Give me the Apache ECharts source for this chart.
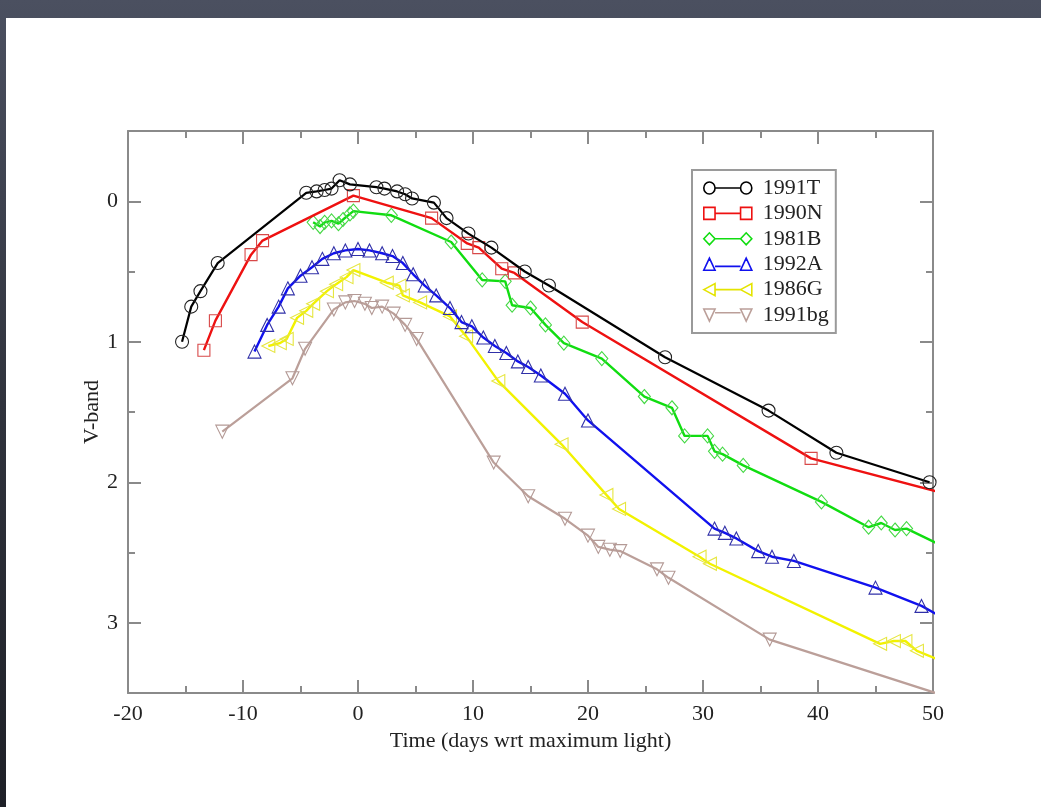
<!DOCTYPE html>
<html>
<head>
<meta charset="utf-8">
<script src="https://cdn.jsdelivr.net/npm/echarts@6/dist/echarts.min.js"></script>
<style>
  html, body { margin: 0; padding: 0; width: 1041px; height: 807px; overflow: hidden;
    background: linear-gradient(180deg, #4b5060 0%, #30333d 50%, #1e2027 100%); }
  #chart { position: absolute; left: 6px; top: 18px; width: 1035px; height: 789px; background: #ffffff; }
</style>
</head>
<body>
<div id="chart"></div>
<script>
// ---- data (time in days wrt maximum light, V-band magnitude offset) ----
const seriesNames = ['1991T', '1990N', '1981B', '1992A', '1986G', '1991bg'];

const sn1991T = [[-15.3,1.0],[-14.5,0.75],[-13.7,0.64],[-12.2,0.44],[-4.5,-0.06],[-3.6,-0.07],[-2.9,-0.08],[-2.3,-0.09],[-1.6,-0.15],[-0.7,-0.12],[1.6,-0.1],[2.3,-0.09],[3.4,-0.07],[4.1,-0.05],[4.7,-0.02],[6.6,0.01],[7.7,0.12],[9.6,0.23],[11.6,0.33],[14.5,0.5],[16.6,0.6],[26.7,1.11],[35.7,1.49],[41.6,1.79],[49.7,2.0]];

const sn1990N = [[-13.4,1.06],[-12.4,0.85],[-9.3,0.38],[-8.3,0.28],[-0.4,-0.04],[6.4,0.12],[9.5,0.3],[10.5,0.33],[12.5,0.48],[13.6,0.51],[19.5,0.86],[39.4,1.83],[51.5,2.09]];

const sn1981B = [[-3.9,0.15],[-3.3,0.18],[-2.9,0.15],[-2.3,0.14],[-1.7,0.16],[-1.3,0.13],[-0.7,0.09],[-0.4,0.07],[2.9,0.1],[8.1,0.29],[10.8,0.56],[12.8,0.57],[13.4,0.74],[15.0,0.76],[16.3,0.88],[17.9,1.01],[21.2,1.12],[24.9,1.39],[27.3,1.47],[28.4,1.67],[30.4,1.67],[31.0,1.78],[31.7,1.8],[33.5,1.88],[40.3,2.14],[44.4,2.32],[45.5,2.29],[46.7,2.34],[47.7,2.33],[51.0,2.46]];

const sn1992A = [[-9.0,1.07],[-7.9,0.88],[-6.9,0.75],[-6.1,0.62],[-5.0,0.53],[-4.0,0.47],[-3.1,0.41],[-2.1,0.37],[-1.1,0.35],[0.0,0.34],[1.0,0.35],[2.1,0.37],[3.0,0.39],[3.9,0.44],[4.8,0.52],[5.8,0.6],[6.8,0.67],[8.0,0.76],[9.0,0.86],[9.9,0.89],[10.9,0.97],[11.9,1.03],[12.9,1.08],[13.9,1.14],[14.8,1.18],[15.9,1.24],[18.0,1.37],[20.0,1.56],[31.0,2.33],[31.9,2.36],[32.9,2.4],[34.8,2.49],[36.0,2.53],[37.9,2.56],[45.0,2.75],[49.0,2.88],[51.0,2.97]];

const sn1986G = [[-7.8,1.03],[-6.8,1.01],[-6.2,0.98],[-5.3,0.83],[-4.5,0.78],[-3.9,0.73],[-2.7,0.64],[-1.9,0.59],[-1.0,0.54],[-0.4,0.49],[2.5,0.58],[3.6,0.6],[3.9,0.67],[5.4,0.72],[8.0,0.82],[9.4,0.96],[12.2,1.28],[17.7,1.73],[21.6,2.09],[22.7,2.19],[29.7,2.53],[30.6,2.58],[45.4,3.15],[46.6,3.13],[47.6,3.13],[48.6,3.2],[51.0,3.28]];

const sn1991bg = [[-11.8,1.64],[-5.7,1.26],[-4.6,1.05],[-2.1,0.77],[-1.1,0.72],[-0.3,0.71],[0.6,0.73],[1.2,0.76],[2.1,0.75],[3.1,0.8],[4.1,0.88],[5.1,0.98],[11.8,1.86],[14.8,2.1],[18.0,2.26],[20.0,2.38],[20.9,2.46],[21.9,2.48],[22.8,2.49],[26.0,2.62],[27.0,2.68],[35.8,3.12],[51.0,3.52]];

const xTicks = { min: -20, max: 50, interval: 10 };
const yTicks = { min: -0.5, max: 3.5, interval: 0.5, labelled: [0, 1, 2, 3] };

// ---- styling ----
const FONT = '"Liberation Serif", "DejaVu Serif", serif';
const FRAME = '#8a8a8a';
const seriesData = [sn1991T, sn1990N, sn1981B, sn1992A, sn1986G, sn1991bg];
const lineColors = ['#000000', '#ee1111', '#11dd11', '#1111ee', '#f2f200', '#bb9f99'];
const markColors = ['#222222', '#d84848', '#44d844', '#3030a8', '#e6e640', '#b49a96'];
const lineWidths = [2.2, 2.4, 2.4, 2.4, 2.4, 2.2];
const symbols = ['circle', 'rect', 'diamond', 'triangle', 'triangle', 'triangle'];
const symbolRot = [0, 0, 0, 0, 90, 180];
const symbolSizes = [13, 12, [12, 14], 13, 13, 13];
const legendIcons = [
  'path://M0.5,6A5.5,5.5 0 1 1 11.5,6A5.5,5.5 0 1 1 0.5,6Z M11.5,6L36.5,6 M36.5,6A5.5,5.5 0 1 1 47.5,6A5.5,5.5 0 1 1 36.5,6Z',
  'path://M0.5,0.5L11.5,0.5L11.5,11.5L0.5,11.5Z M11.5,6L36.5,6 M36.5,0.5L47.5,0.5L47.5,11.5L36.5,11.5Z',
  'path://M0.5,6L6,0.5L11.5,6L6,11.5Z M11.5,6L36.5,6 M36.5,6L42,0.5L47.5,6L42,11.5Z',
  'path://M0.5,11.5L6,0.5L11.5,11.5Z M11.5,8L36.5,8 M36.5,11.5L42,0.5L47.5,11.5Z',
  'path://M0.5,6L11.5,0.5L11.5,11.5Z M11.5,6L36.5,6 M36.5,6L47.5,0.5L47.5,11.5Z',
  'path://M0.5,0.5L11.5,0.5L6,11.5Z M11.5,4L36.5,4 M36.5,0.5L47.5,0.5L42,11.5Z'
];

const tickStyle = { color: FRAME, width: 2 };

function xAxisDef(pos, labels) {
  return {
    type: 'value', position: pos, min: xTicks.min, max: xTicks.max, interval: xTicks.interval,
    axisLine: { show: true, onZero: false, lineStyle: { color: FRAME, width: 2 } },
    axisTick: { show: true, inside: true, length: 13, lineStyle: tickStyle },
    minorTick: { show: true, splitNumber: 2, length: 7, lineStyle: tickStyle },
    splitLine: { show: false }, minorSplitLine: { show: false },
    axisLabel: { show: labels, color: '#222', fontFamily: FONT, fontSize: 22, margin: 10 },
    name: labels ? 'Time (days wrt maximum light)' : '',
    nameLocation: 'middle', nameGap: 34,
    nameTextStyle: { color: '#222', fontFamily: FONT, fontSize: 22 }
  };
}
function yAxisDef(pos, major, labels) {
  const a = {
    type: 'value', position: pos, inverse: true, min: yTicks.min, max: yTicks.max, interval: yTicks.interval,
    axisLine: { show: !major, onZero: false, lineStyle: { color: FRAME, width: 2 } },
    axisTick: { show: true, inside: true, length: major ? 13 : 7, lineStyle: tickStyle },
    splitLine: { show: false },
    axisLabel: { show: false }
  };
  if (major) {
    a.axisTick.customValues = yTicks.labelled;
    a.axisLabel = { show: labels, customValues: yTicks.labelled, color: '#222', fontFamily: FONT, fontSize: 22, margin: 10 };
  }
  if (labels) {
    a.name = 'V-band';
    a.nameLocation = 'middle';
    a.nameGap = 25;
    a.nameMoveOverlap = false;
    a.nameRotate = 90;
    a.nameTextStyle = { color: '#222', fontFamily: FONT, fontSize: 22 };
  }
  return a;
}

const chart = echarts.init(document.getElementById('chart'), null, { renderer: 'canvas' });
chart.setOption({
  animation: false,
  backgroundColor: '#ffffff',
  grid: { left: 122, right: 108, top: 113, bottom: 114, containLabel: false },
  xAxis: [xAxisDef('bottom', true), xAxisDef('top', false)],
  yAxis: [yAxisDef('left', false, false), yAxisDef('left', true, true), yAxisDef('right', false, false), yAxisDef('right', true, false)],
  legend: {
    orient: 'vertical', left: 686, top: 152,
    backgroundColor: '#ffffff', borderColor: '#9a9a9a', borderWidth: 2, borderRadius: 0,
    padding: [7, 7, 7, 11], itemGap: 3.4, itemWidth: 48, itemHeight: 12,
    symbolKeepAspect: false,
    textStyle: { color: '#222', fontFamily: FONT, fontSize: 22, padding: [0, 0, 0, 6] },
    data: seriesNames.map((n, i) => ({
      name: n, icon: legendIcons[i],
      itemStyle: { color: 'rgba(0,0,0,0)', borderColor: lineColors[i] === '#f2f200' ? '#e4e400' : lineColors[i], borderWidth: 1.6 }
    }))
  },
  series: seriesNames.map((n, i) => ({
    name: n, type: 'line', xAxisIndex: 0, yAxisIndex: 0,
    data: seriesData[i], clip: true, smooth: false,
    symbol: symbols[i], symbolSize: symbolSizes[i], symbolRotate: symbolRot[i], showAllSymbol: true,
    color: lineColors[i],
    lineStyle: { color: lineColors[i], width: lineWidths[i] },
    itemStyle: { color: 'rgba(0,0,0,0)', borderColor: markColors[i], borderWidth: 1.1 },
    emphasis: { disabled: true },
    z: 10 - i
  }))
});
</script>
</body>
</html>
